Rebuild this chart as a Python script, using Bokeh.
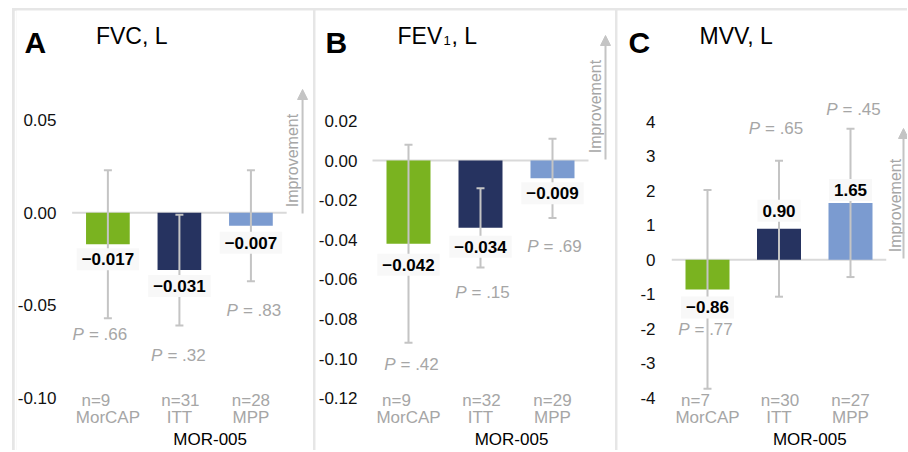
import math
from bokeh.plotting import figure
from bokeh.layouts import row
from bokeh.models import FixedTicker, Label, Arrow, NormalHead, Range1d
from bokeh.core.properties import value
from bokeh.embed import file_html
from bokeh.resources import INLINE

# ---------------- data ----------------
CATEGORIES = ["MorCAP", "ITT", "MPP"]
GROUP_LABEL = "MOR-005"
BAR_COLORS = ["#7ab320", "#263360", "#7b9bd0"]

A_TITLE = "FVC, L"
A_N = [9, 31, 28]
A_MEAN = [-0.017, -0.031, -0.007]
A_CI_LOW = [-0.057, -0.061, -0.037]
A_CI_HIGH = [0.023, -0.001, 0.023]
A_P = [".66", ".32", ".83"]
A_MEAN_TEXT = ["\u22120.017", "\u22120.031", "\u22120.007"]
A_TICKS = [-0.10, -0.05, 0.0, 0.05]
A_TICK_LABELS = ["-0.10", "-0.05", "0.00", "0.05"]

B_TITLE = "FEV"
B_N = [9, 32, 29]
B_MEAN = [-0.042, -0.034, -0.009]
B_CI_LOW = [-0.092, -0.054, -0.029]
B_CI_HIGH = [0.008, -0.014, 0.011]
B_P = [".42", ".15", ".69"]
B_MEAN_TEXT = ["\u22120.042", "\u22120.034", "\u22120.009"]
B_TICKS = [-0.12, -0.10, -0.08, -0.06, -0.04, -0.02, 0.0, 0.02]
B_TICK_LABELS = ["-0.12", "-0.10", "-0.08", "-0.06", "-0.04", "-0.02", "0.00", "0.02"]

C_TITLE = "MVV, L"
C_N = [7, 30, 27]
C_MEAN = [-0.86, 0.90, 1.65]
C_CI_LOW = [-3.74, -1.07, -0.50]
C_CI_HIGH = [2.02, 2.87, 3.80]
C_P = [".77", ".65", ".45"]
C_MEAN_TEXT = ["\u22120.86", "0.90", "1.65"]
C_TICKS = [-4, -3, -2, -1, 0, 1, 2, 3, 4]
C_TICK_LABELS = ["-4", "-3", "-2", "-1", "0", "1", "2", "3", "4"]

# ---------------- layout / style (pixels on the page) ----------------
FONT = value("Liberation Sans")
GREY_TXT = "#a6a6a6"
GREY_LINE = "#c4c4c4"
ZERO_LINE = "#d9d9d9"
FIG_TOP = 10
FIG_H = 440

PANELS = [
    dict(letter="A", title=A_TITLE, n=A_N, mean=A_MEAN, lo=A_CI_LOW, hi=A_CI_HIGH, p=A_P,
         mean_text=A_MEAN_TEXT, ticks=A_TICKS, tick_labels=A_TICK_LABELS,
         fig_left=14, width=299, tick_right=54, c0=106, sp=72, y0=212.3, k=1848,
         label_off=[15, 16, 17], p_y=[334, 355, 310], p_dx=[-8, -1, 3],
         letter_x=22, title_x=94, impr=(292, 160), arrow=(302, 213, 89)),
    dict(letter="B", title=B_TITLE, n=B_N, mean=B_MEAN, lo=B_CI_LOW, hi=B_CI_HIGH, p=B_P,
         mean_text=B_MEAN_TEXT, ticks=B_TICKS, tick_labels=B_TICK_LABELS,
         fig_left=315, width=300, tick_right=357, c0=408, sp=72, y0=160, k=1981,
         label_off=[21, 19, 15], p_y=[364, 292, 246], p_dx=[3, 2, 2],
         letter_x=325, title_x=397, impr=(595, 106), arrow=(605, 159, 35)),
    dict(letter="C", title=C_TITLE, n=C_N, mean=C_MEAN, lo=C_CI_LOW, hi=C_CI_HIGH, p=C_P,
         mean_text=C_MEAN_TEXT, ticks=C_TICKS, tick_labels=C_TICK_LABELS,
         fig_left=617, width=290, tick_right=655, c0=707, sp=71.5, y0=259.3, k=34.5,
         label_off=[18, 18, 13], p_y=[329, 128, 109], p_dx=[-2, -3, 3],
         letter_x=628, title_x=699, impr=(895, 205), arrow=(903, 258, 128)),
]


def make_panel(s):
    X = lambda px: (px - s["c0"]) / s["sp"]
    Y = lambda py: (s["y0"] - py) / s["k"]
    frame_left = s["fig_left"]
    frame_right = s["fig_left"] + s["width"]
    xr = Range1d(X(frame_left), X(frame_right))
    yr = Range1d(Y(FIG_TOP + FIG_H), Y(FIG_TOP))

    p = figure(width=s["width"], height=FIG_H, x_range=xr, y_range=yr,
               x_axis_location=None, output_backend="svg", toolbar_location=None,
               min_border_left=0, min_border_right=0, min_border_top=0,
               min_border_bottom=0, outline_line_color=None,
               background_fill_color="white", border_fill_color="white")
    p.grid.visible = False
    ax = p.yaxis[0]
    ax.ticker = FixedTicker(ticks=s["ticks"])
    ax.major_label_overrides = {t: l for t, l in zip(s["ticks"], s["tick_labels"])}
    ax.axis_line_color = None
    ax.major_tick_line_color = None
    ax.minor_tick_line_color = None
    ax.major_tick_out = 0
    ax.major_tick_in = 0
    # tick labels are drawn inside the panel, to the left of the bars
    ax.major_label_standoff = -(s["tick_right"] - s["fig_left"])
    ax.major_label_text_font = "Liberation Sans"
    ax.major_label_text_font_size = "17px"
    ax.major_label_text_color = "#111111"

    xs = list(range(len(CATEGORIES)))
    # zero line
    p.segment(x0=[xs[0] - 0.5], x1=[xs[-1] + 0.5], y0=[0], y1=[0],
              line_color=ZERO_LINE, line_width=2)
    # bars
    p.vbar(x=xs, top=s["mean"], bottom=0, width=44 / s["sp"],
           fill_color=BAR_COLORS, line_color=None)
    # error bars
    p.segment(x0=xs, x1=xs, y0=s["lo"], y1=s["hi"], line_color=GREY_LINE, line_width=2)
    p.scatter(x=xs, y=s["lo"], marker="dash", size=8, line_color=GREY_LINE, line_width=2)
    p.scatter(x=xs, y=s["hi"], marker="dash", size=8, line_color=GREY_LINE, line_width=2)

    # value labels
    ly = [m + (1 if m > 0 else -1) * off / s["k"] for m, off in zip(s["mean"], s["label_off"])]
    p.text(x=xs, y=ly, text=s["mean_text"], text_font=FONT, text_font_size="17px",
           text_font_style="bold", text_color="black", text_align="center",
           text_baseline="middle", background_fill_color="#f8f8f8", padding=5)

    # P labels
    py = [Y(v) for v in s["p_y"]]
    p.text(x=xs, y=py, text=["P"] * 3, x_offset=[d - 16 for d in s["p_dx"]],
           text_font=FONT, text_font_size="17px", text_font_style="italic",
           text_color=GREY_TXT, text_align="right", text_baseline="middle")
    p.text(x=xs, y=py, text=["= " + v for v in s["p"]], x_offset=[d - 11 for d in s["p_dx"]],
           text_font=FONT, text_font_size="17px", text_color=GREY_TXT,
           text_align="left", text_baseline="middle")

    # n and category labels
    p.text(x=xs, y=[Y(400)] * 3, text=["n=%d" % n for n in s["n"]], x_offset=[-12, 1, 0],
           text_font=FONT, text_font_size="17px", text_color=GREY_TXT,
           text_align="center", text_baseline="middle")
    p.text(x=xs, y=[Y(417)] * 3, text=CATEGORIES,
           text_font=FONT, text_font_size="17px", text_color=GREY_TXT,
           text_align="center", text_baseline="middle")
    p.text(x=[(xs[1] + xs[2]) / 2], y=[Y(439)], text=[GROUP_LABEL], x_offset=[-5],
           text_font=FONT, text_font_size="17px", text_color="black",
           text_align="center", text_baseline="middle")

    # panel letter and title
    p.add_layout(Label(x=X(s["letter_x"]), y=Y(41.5), text=s["letter"],
                       text_font="Liberation Sans", text_font_size="30px",
                       text_font_style="bold", text_color="black",
                       text_align="left", text_baseline="alphabetic"))
    p.add_layout(Label(x=X(s["title_x"]), y=Y(35), text=s["title"],
                       text_font="Liberation Sans", text_font_size="23px",
                       text_color="black", text_align="left", text_baseline="alphabetic"))
    if s["letter"] == "B":
        p.add_layout(Label(x=X(s["title_x"] + 46), y=Y(39.5), text="1",
                           text_font="Liberation Sans", text_font_size="13px",
                           text_color="black", text_align="left", text_baseline="alphabetic"))
        p.add_layout(Label(x=X(s["title_x"] + 54), y=Y(35), text=", L",
                           text_font="Liberation Sans", text_font_size="23px",
                           text_color="black", text_align="left", text_baseline="alphabetic"))

    # improvement arrow
    ix, iy = s["impr"]
    p.add_layout(Label(x=X(ix), y=Y(iy), text="Improvement", angle=math.pi / 2,
                       text_font="Liberation Sans", text_font_size="16px",
                       text_color=GREY_TXT, text_align="center", text_baseline="middle"))
    axp, ay0, ay1 = s["arrow"]
    p.add_layout(Arrow(x_start=X(axp), y_start=Y(ay0), x_end=X(axp), y_end=Y(ay1),
                       line_color=GREY_LINE, line_width=2,
                       end=NormalHead(size=10, fill_color=GREY_LINE, line_color=GREY_LINE)))
    return p


panels = [make_panel(s) for s in PANELS]
layout = row(*panels, spacing=2,
             styles={"margin-left": "12px", "margin-top": "8px", "padding-top": "2px",
                     "padding-left": "2px", "background-color": "#e6e6e6"})

open("out.html", "w").write(file_html(layout, INLINE))
